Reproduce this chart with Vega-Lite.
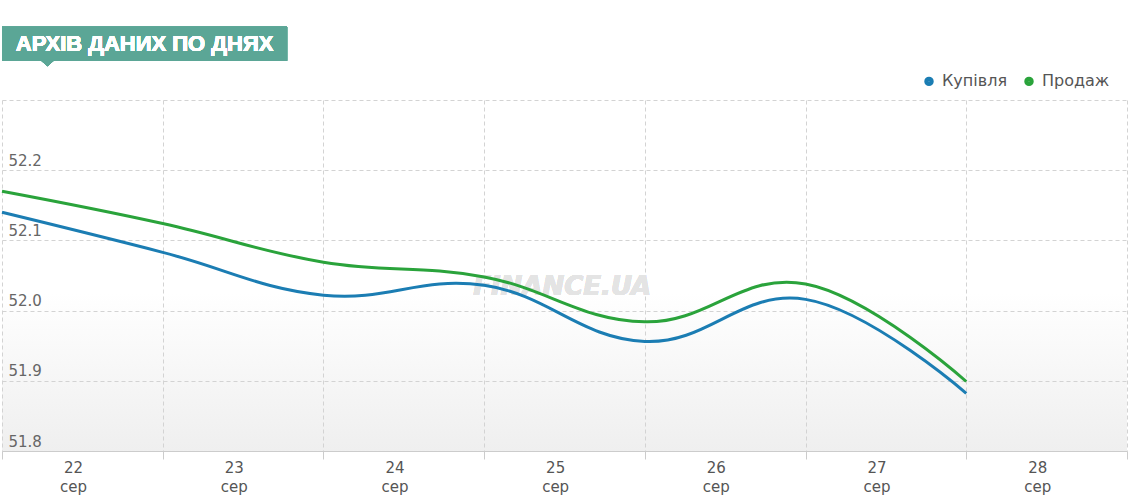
{
  "$schema": "https://vega.github.io/schema/vega-lite/v6.json",
  "width": 1125,
  "height": 351,
  "autosize": {"type": "none"},
  "padding": {"left": 2, "top": 100, "right": 4, "bottom": 52},
  "background": "white",
  "config": {
    "view": {
      "stroke": null,
      "fill": {
        "gradient": "linear",
        "x1": 0, "y1": 0, "x2": 0, "y2": 1,
        "stops": [
          {"offset": 0, "color": "#ffffff"},
          {"offset": 0.55, "color": "#ffffff"},
          {"offset": 1, "color": "#efefef"}
        ]
      }
    },
    "font": "DejaVu Sans"
  },
  "data": {
    "values": [
      {"day": 22, "series": "Купівля", "rate": 52.14},
      {"day": 23, "series": "Купівля", "rate": 52.083},
      {"day": 24, "series": "Купівля", "rate": 52.022},
      {"day": 25, "series": "Купівля", "rate": 52.036},
      {"day": 26, "series": "Купівля", "rate": 51.956},
      {"day": 27, "series": "Купівля", "rate": 52.016},
      {"day": 28, "series": "Купівля", "rate": 51.882},
      {"day": 22, "series": "Продаж", "rate": 52.17},
      {"day": 23, "series": "Продаж", "rate": 52.124},
      {"day": 24, "series": "Продаж", "rate": 52.069},
      {"day": 25, "series": "Продаж", "rate": 52.048},
      {"day": 26, "series": "Продаж", "rate": 51.984},
      {"day": 27, "series": "Продаж", "rate": 52.038},
      {"day": 28, "series": "Продаж", "rate": 51.899}
    ]
  },
  "layer": [
    {
      "mark": {"type": "rect", "color": "#5ba696", "clip": false},
      "encoding": {
        "x": {"datum": 22, "type": "quantitative"},
        "x2": {"datum": 23.774},
        "y": {"datum": 52.4043, "type": "quantitative"},
        "y2": {"datum": 52.3559}
      }
    },
    {
      "mark": {"type": "point", "shape": "M-1,-0.45L1,-0.45L0,0.45Z", "filled": true, "color": "#5ba696", "opacity": 1, "size": 225, "clip": false},
      "encoding": {
        "x": {"datum": 22.283, "type": "quantitative"},
        "y": {"datum": 52.353, "type": "quantitative"}
      }
    },
    {
      "mark": {"type": "text", "text": "АРХІВ ДАНИХ ПО ДНЯХ", "font": "Liberation Sans", "fontWeight": "bold", "fontSize": 22, "color": "white", "align": "center", "baseline": "middle", "clip": false},
      "encoding": {
        "x": {"datum": 22.887, "type": "quantitative"},
        "y": {"datum": 52.3797, "type": "quantitative"}
      }
    },
    {
      "mark": {"type": "text", "text": "FINANCE.UA", "fontStyle": "italic", "fontWeight": "bold", "fontSize": 26, "color": "#e4e4e4", "align": "center", "baseline": "middle"},
      "encoding": {
        "x": {"datum": 25.485, "type": "quantitative"},
        "y": {"datum": 52.0336, "type": "quantitative"}
      }
    },
    {
      "mark": {"type": "line", "interpolate": "cardinal", "tension": -0.2, "strokeWidth": 3},
      "encoding": {
        "x": {
          "field": "day",
          "type": "quantitative",
          "scale": {"domain": [22, 29], "nice": false, "zero": false},
          "axis": {
            "title": null,
            "grid": true,
            "values": [22, 23, 24, 25, 26, 27, 28, 29],
            "labelExpr": "datum.value < 29 ? [format(datum.value, 'd'), 'сер'] : ''",
            "labelOffset": 71,
            "labelPadding": 1,
            "labelFontSize": 15,
            "labelLineHeight": 19,
            "labelColor": "#555555",
            "labelFlush": false,
            "labelOverlap": false,
            "domainColor": "#cccccc",
            "tickColor": "#cccccc",
            "tickSize": 8,
            "gridColor": "#d3d3d3",
            "gridOpacity": 1,
            "gridDash": [4, 3]
          }
        },
        "y": {
          "field": "rate",
          "type": "quantitative",
          "scale": {"domain": [51.8, 52.3], "nice": false, "zero": false},
          "axis": {
            "title": null,
            "grid": true,
            "values": [51.8, 51.9, 52.0, 52.1, 52.2, 52.3],
            "labelExpr": "datum.value > 52.25 ? '' : format(datum.value, '.1f')",
            "domain": false,
            "ticks": false,
            "tickSize": 0,
            "labelAlign": "left",
            "labelBaseline": "alphabetic",
            "labelPadding": -6,
            "labelOffset": -5,
            "labelFontSize": 15,
            "labelColor": "#666666",
            "gridColor": "#d3d3d3",
            "gridOpacity": 1,
            "gridDash": [4, 3]
          }
        },
        "color": {
          "field": "series",
          "type": "nominal",
          "scale": {"domain": ["Купівля", "Продаж"], "range": ["#1b7db3", "#2aa33b"]},
          "legend": {
            "title": null,
            "orient": "none",
            "legendX": 919,
            "legendY": -27,
            "direction": "horizontal",
            "symbolType": "circle",
            "symbolSize": 20,
            "symbolStrokeWidth": 5,
            "labelFontSize": 16,
            "labelColor": "#555555",
            "labelOffset": 5,
            "columnPadding": 8
          }
        }
      }
    }
  ]
}
